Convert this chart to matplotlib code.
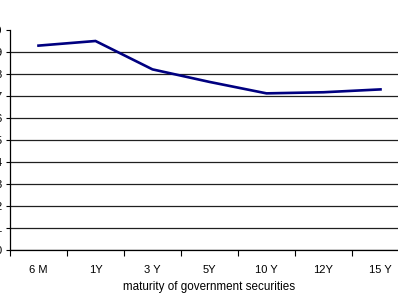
import numpy as np
import matplotlib
matplotlib.use('Agg')
import matplotlib.pyplot as plt

# yield curve
maturities = ['6 M', '1Y', '3 Y', '5Y', '10 Y', '12Y', '15 Y']
yields = [9.29, 9.50, 8.21, 7.64, 7.12, 7.17, 7.30]
y_ticks = list(range(0, 11))

plt.rcParams['font.family'] = ['Liberation Sans', 'DejaVu Sans']

fig = plt.figure(figsize=(3.98, 2.95), dpi=100)
# axes runs a bit past the right edge, like the cropped original
ax = fig.add_axes([10 / 398, 45 / 295, 399 / 398, 220 / 295])

x = np.arange(len(maturities))
ax.plot(x, yields, color='#000080', linewidth=1.9, solid_joinstyle='miter')

ax.set_xlim(-0.5, len(maturities) - 0.5)
ax.set_ylim(0, 10)
ax.set_yticks(y_ticks)
ax.set_yticklabels([str(v) for v in y_ticks], fontsize=8)

ax.set_xticks(x)
ax.set_xticklabels(maturities, fontsize=8)
ax.set_xticks(np.arange(len(maturities) + 1) - 0.5, minor=True)
ax.tick_params(axis='x', which='major', length=0, pad=11)
ax.tick_params(axis='x', which='minor', length=4, width=0.8, direction='out')
ax.tick_params(axis='y', length=3, width=0.8, direction='out', pad=3)

ax.yaxis.grid(True, color='#202020', linewidth=0.9)
ax.yaxis.get_gridlines()[-1].set_visible(False)
ax.set_axisbelow(True)

for s in ['top', 'right']:
    ax.spines[s].set_visible(False)
ax.spines['left'].set_linewidth(0.9)
ax.spines['bottom'].set_linewidth(0.9)

ax.set_xlabel('maturity of government securities', fontsize=8.4, labelpad=4)

fig.savefig('out.png', dpi=100)
